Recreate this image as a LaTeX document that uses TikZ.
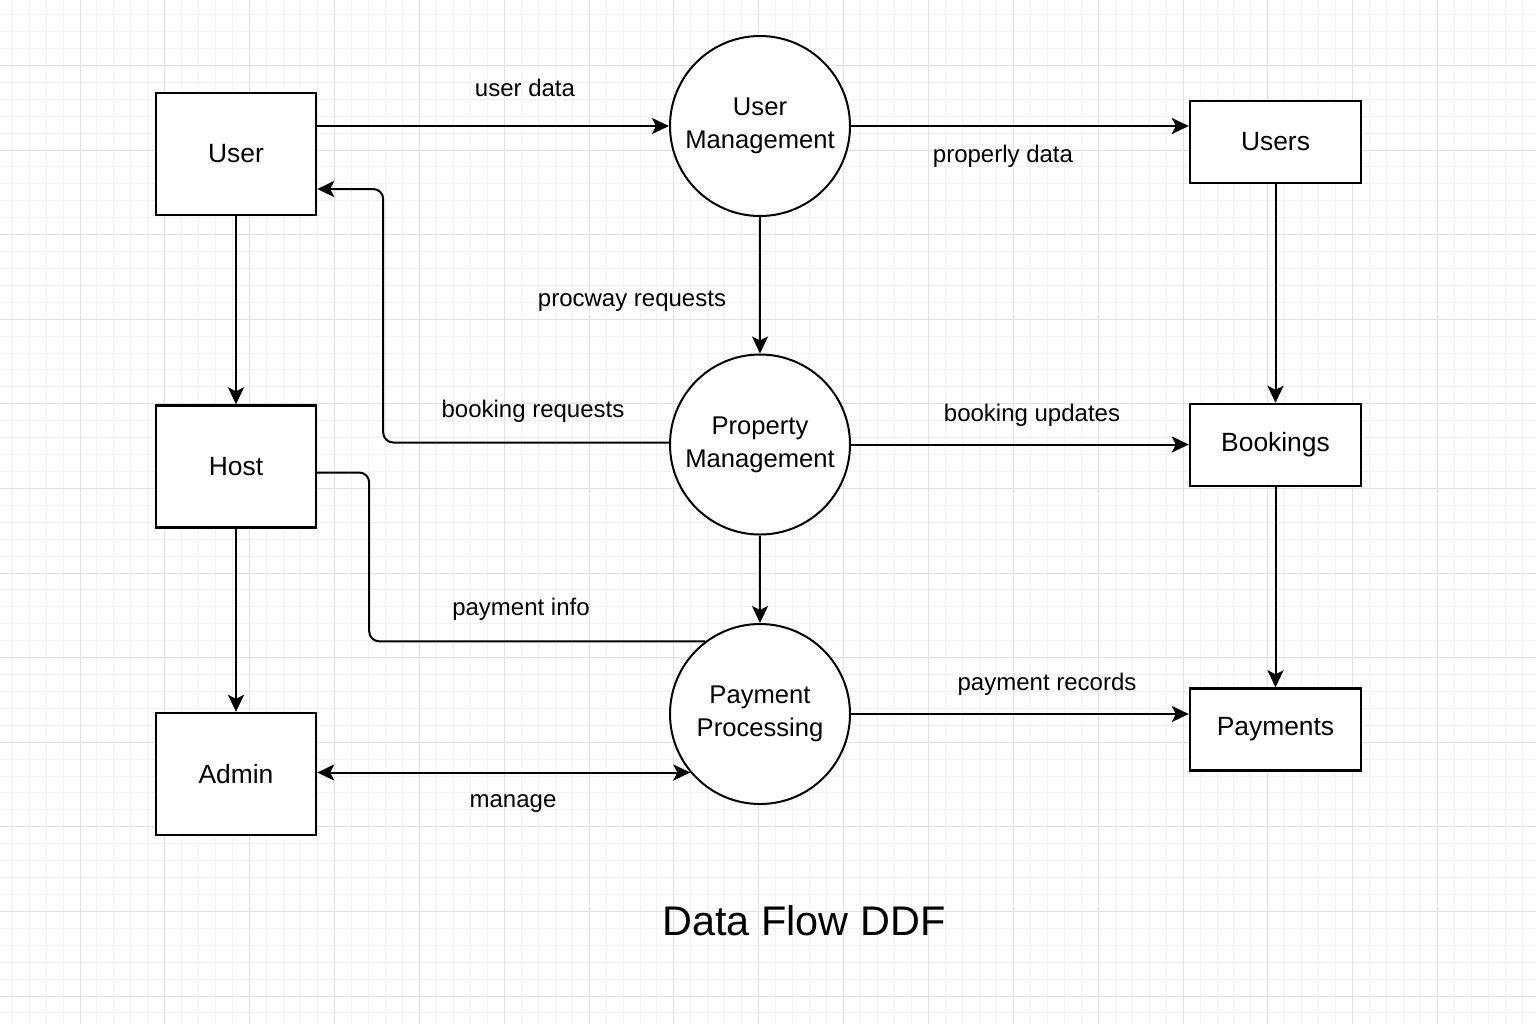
\documentclass[tikz,border=0pt]{standalone}
\usepackage{fontspec}
\setmainfont{Liberation Sans}
\usepackage{tikz}
\usetikzlibrary{arrows.meta,calc}
\definecolor{gridminor}{gray}{0.945}
\definecolor{gridmajor}{gray}{0.88}

\begin{document}
\begin{tikzpicture} [x = 0.5pt, y = -0.5pt,
	entity/.style = {draw, line width = 1.2pt, fill = white, minimum width = 80pt, minimum height = 61pt, font = \fontsize{13.2}{16}\selectfont},
	store/.style = {entity, minimum width = 85.5pt, minimum height = 41pt},
	process/.style = {circle, draw, line width = 1pt, fill = white, minimum size = 90pt, inner sep = 0pt, align = center, font = \fontsize{12.8}{16.5}\selectfont},
	flow/.style = {line width = 1pt, -{Stealth[length = 8.5pt, width = 8pt, inset = 2pt]}},
	bothflow/.style = {line width = 1pt, {Stealth[length = 8.5pt, width = 8pt, inset = 2pt]}-{Stealth[length = 8.5pt, width = 8pt, inset = 2pt]}},
	lbl/.style = {anchor = base, inner sep = 0pt, font = \fontsize{12}{14}\selectfont}]
	\useasboundingbox (0,0) rectangle (1536,1024);
	\fill [white] (0,0) rectangle (1536,1024);
	% grid
	\foreach \j in {-4,...,86} \draw [gridminor, line width = 0.5pt] ({80+\j*16.97},0) -- ++(0,1024);
	\foreach \j in {-8,...,51} \draw [gridminor, line width = 0.5pt] (0,{150+\j*16.92}) -- ++(1536,0);
	\foreach \j in {0,...,17} \draw [gridmajor, line width = 0.5pt] ({80+(\j-1)*84.85},0) -- ++(0,1024);
	\foreach \j in {-1,...,10} \draw [gridmajor, line width = 0.5pt] (0,{150+\j*84.6}) -- ++(1536,0);

	% external entities
	\node [entity] (user) at (236,154) {User};
	\node [entity] (host) at (236,466.5) {Host};
	\node [entity] (admin) at (236,774) {Admin};
	% processes
	\node [process] (um) at (760,126) {User\\Management};
	\node [process] (pm) at (760,444.5) {Property\\Management};
	\node [process] (pp) at (760,714) {Payment\\Processing};
	% data stores
	\node [store] (users) at (1275.5,142) {Users};
	\node [store] (bookings) at (1275.5,445) {Bookings};
	\node [store] (payments) at (1275.5,729.5) {Payments};

	% flows
	\draw [flow] (user.east |- um.west) -- (um.west);
	\draw [flow] (um.east) -- (um.east -| users.west);
	\draw [flow] (um) -- (pm);
	\draw [flow, rounded corners = 5pt] ([yshift = 1pt]pm.west) -| ([xshift = 33pt, yshift = -17.5pt]user.east) -- ([yshift = -17.5pt]user.east);
	\draw [flow] (pm.east) -- (pm.east -| bookings.west);
	\draw [flow] (users) -- (bookings);
	\draw [flow] (bookings) -- (payments);
	\draw [flow] (user) -- (host);
	\draw [flow] (host) -- (admin);
	\draw [flow] (pm) -- (pp);
	\draw [line width = 1pt, rounded corners = 5pt] ([yshift = -3pt]host.east) -- ++(52,0) |- (pp.127);
	\draw [flow] (pp.east) -- (pp.east -| payments.west);
	\draw [bothflow] (admin.east |- pp.220) -- (pp.220);
	%\draw [flow] (admin) -- (pp);

	% flow labels
	\node [lbl] (l-userdata) at (525,96) {user data};
	\node [lbl] (l-propdata) at (1003,162) {properly data};
	\node [lbl] (l-procway) at (632,306) {procway requests};
	\node [lbl] (l-bookreq) at (533,417) {booking requests};
	\node [lbl] (l-bookupd) at (1032,421) {booking updates};
	\node [lbl] (l-payinfo) at (521,615) {payment info};
	\node [lbl] (l-payrec) at (1047,690) {payment records};
	\node [lbl] (l-manage) at (513,807) {manage};

	\node [anchor = base, font = \fontsize{20.7}{24}\selectfont] (title) at (804,935) {Data Flow DDF};
\end{tikzpicture}
\end{document}
